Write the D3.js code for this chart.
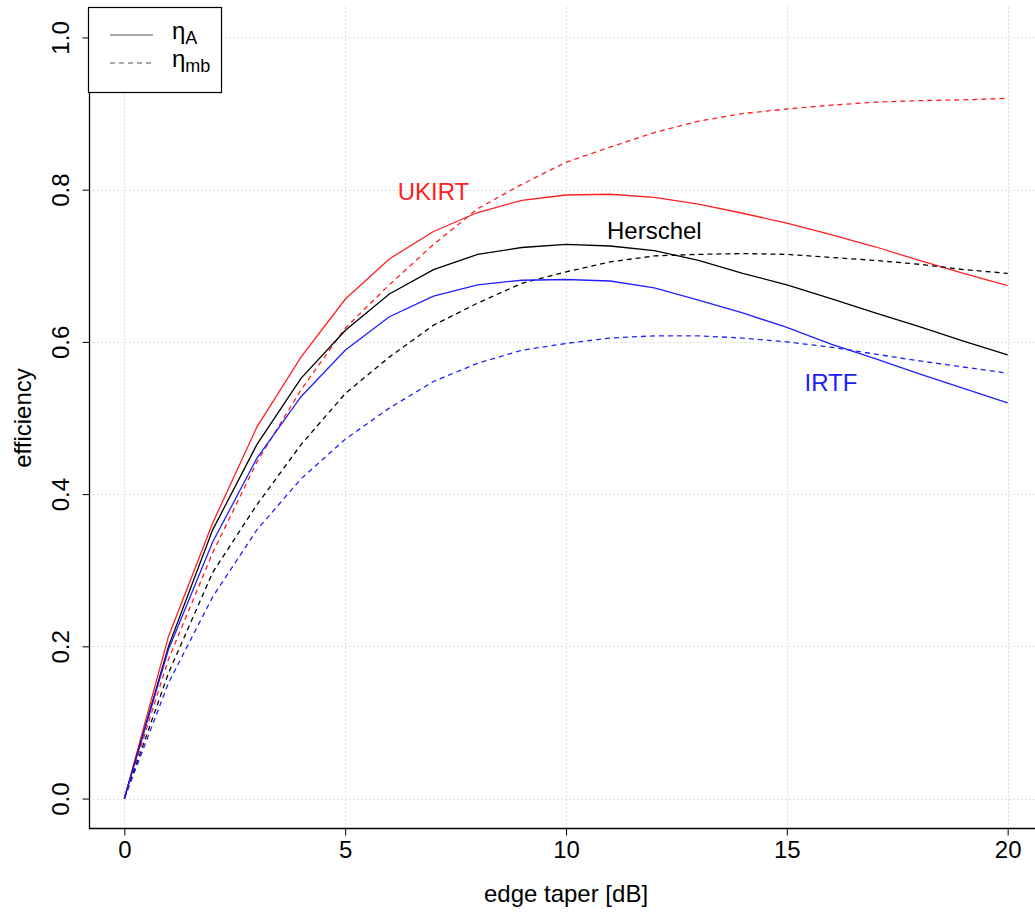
<!DOCTYPE html>
<html>
<head>
<meta charset="utf-8">
<script src="https://cdn.jsdelivr.net/npm/d3@7"></script>
<style>
  html, body { margin: 0; padding: 0; background: #fff; }
  svg { display: block; font-family: "Liberation Sans", Arial, Helvetica, sans-serif; }
</style>
</head>
<body>
<svg id="chart" width="1035" height="912"></svg>
<script>
// Edge taper in dB (x values)
const taper = [0, 1, 2, 3, 4, 5, 6, 7, 8, 9, 10, 11, 12, 13, 14, 15, 16, 17, 18, 19, 20];

// Aperture efficiency (eta_A) per telescope
const ukirtEtaA    = [0, 0.213, 0.362, 0.488, 0.580, 0.656, 0.709, 0.745, 0.770, 0.786, 0.793, 0.794, 0.790, 0.781, 0.769, 0.756, 0.741, 0.725, 0.707, 0.690, 0.674];
const herschelEtaA = [0, 0.200, 0.353, 0.465, 0.552, 0.615, 0.663, 0.695, 0.715, 0.724, 0.728, 0.726, 0.720, 0.707, 0.690, 0.675, 0.657, 0.638, 0.620, 0.601, 0.583];
const irtfEtaA     = [0, 0.196, 0.337, 0.447, 0.528, 0.589, 0.633, 0.660, 0.675, 0.681, 0.682, 0.680, 0.671, 0.655, 0.638, 0.619, 0.597, 0.578, 0.558, 0.539, 0.520];

// Main-beam efficiency (eta_mb) per telescope
const ukirtEtaMb    = [0, 0.183, 0.323, 0.442, 0.537, 0.618, 0.675, 0.728, 0.775, 0.807, 0.836, 0.856, 0.875, 0.890, 0.900, 0.906, 0.911, 0.915, 0.917, 0.918, 0.920];
const herschelEtaMb = [0, 0.165, 0.297, 0.386, 0.465, 0.532, 0.580, 0.622, 0.651, 0.677, 0.692, 0.705, 0.713, 0.715, 0.716, 0.715, 0.711, 0.707, 0.702, 0.695, 0.690];
const irtfEtaMb     = [0, 0.152, 0.265, 0.353, 0.420, 0.472, 0.513, 0.548, 0.572, 0.589, 0.598, 0.605, 0.608, 0.608, 0.605, 0.600, 0.593, 0.584, 0.575, 0.567, 0.559];

const xTicks = [0, 5, 10, 15, 20];
const yTicks = [0, 0.2, 0.4, 0.6, 0.8, 1.0];

const telescopes = [
  { name: "UKIRT",    color: "#ff2020", etaA: ukirtEtaA,    etaMb: ukirtEtaMb,    labelAt: [7.0, 0.787] },
  { name: "Herschel", color: "#000000", etaA: herschelEtaA, etaMb: herschelEtaMb, labelAt: [12.0, 0.735] },
  { name: "IRTF",     color: "#2020ff", etaA: irtfEtaA,     etaMb: irtfEtaMb,     labelAt: [16.0, 0.535] }
];

const svg = d3.select("#chart");

// Plot region: data range padded by 4% on each side
const plotLeft = 89, plotRight = 1043, plotTop = 7, plotBottom = 829;
const x = d3.scaleLinear().domain([-0.8, 20.8]).range([plotLeft, plotRight]);
const y = d3.scaleLinear().domain([-0.04, 1.04]).range([plotBottom, plotTop]);

// Dotted grid
const grid = svg.append("g").attr("stroke", "#d4d4d4").attr("stroke-width", 1).attr("stroke-dasharray", "1.5,2.5");
grid.selectAll("line.v").data(xTicks).join("line").attr("class", "v")
  .attr("x1", d => Math.round(x(d)) + 0.5).attr("x2", d => Math.round(x(d)) + 0.5)
  .attr("y1", plotTop).attr("y2", plotBottom);
grid.selectAll("line.h").data(yTicks).join("line").attr("class", "h")
  .attr("x1", plotLeft).attr("x2", plotRight)
  .attr("y1", d => Math.round(y(d)) + 0.5).attr("y2", d => Math.round(y(d)) + 0.5);

// Curves
const line = d3.line().x((d, i) => x(taper[i])).y(d => y(d));
const curves = svg.append("g").attr("fill", "none").attr("stroke-width", 1.3);
telescopes.forEach(t => {
  curves.append("path").attr("d", line(t.etaA)).attr("stroke", t.color);
  curves.append("path").attr("d", line(t.etaMb)).attr("stroke", t.color).attr("stroke-dasharray", "5,4");
});

// Curve labels
svg.append("g").attr("font-size", 24).attr("text-anchor", "middle")
  .selectAll("text").data(telescopes).join("text")
  .attr("x", d => x(d.labelAt[0])).attr("y", d => y(d.labelAt[1]))
  .attr("fill", d => d.color)
  .text(d => d.name);

// Axes (L-shaped frame)
const xAxis = d3.axisBottom(x).tickValues(xTicks).tickSize(7).tickPadding(5).tickFormat(d3.format("d"));
const gx = svg.append("g").attr("transform", `translate(0,${plotBottom - 0.5})`).call(xAxis);
gx.select(".domain").remove();
gx.selectAll("text").attr("font-size", 24).attr("fill", "#000").attr("font-family", "Liberation Sans, Arial, sans-serif");
gx.selectAll("line").attr("stroke", "#000");

const yAxis = d3.axisLeft(y).tickValues(yTicks).tickSize(7).tickFormat(d3.format(".1f"));
const gy = svg.append("g").attr("transform", `translate(${plotLeft + 0.5},0)`).call(yAxis);
gy.select(".domain").remove();
gy.selectAll("line").attr("stroke", "#000");
gy.selectAll("text")
  .attr("font-size", 24).attr("fill", "#000").attr("font-family", "Liberation Sans, Arial, sans-serif")
  .attr("text-anchor", "middle").attr("dy", null).attr("x", null)
  .attr("transform", "translate(-21,0) rotate(-90)");

svg.append("path")
  .attr("d", `M${plotLeft + 0.5},${plotTop} V${plotBottom - 0.5} H${plotRight}`)
  .attr("fill", "none").attr("stroke", "#000").attr("stroke-width", 1.3);

// Axis titles
svg.append("text").attr("x", x(10)).attr("y", 902).attr("text-anchor", "middle")
  .attr("font-size", 24).text("edge taper [dB]");
svg.append("text").attr("transform", `translate(31,${y(0.5)}) rotate(-90)`).attr("text-anchor", "middle")
  .attr("font-size", 24).text("efficiency");

// Legend
const legendItems = [
  { sub: "A",  dash: null },
  { sub: "mb", dash: "5,4" }
];
const lg = svg.append("g");
lg.append("rect").attr("x", 88.5).attr("y", 7.5).attr("width", 133).attr("height", 85)
  .attr("fill", "#fff").attr("stroke", "#000").attr("stroke-width", 1.2);
const rows = lg.selectAll("g.row").data(legendItems).join("g")
  .attr("transform", (d, i) => `translate(0,${35 + i * 28})`);
rows.append("line").attr("x1", 110).attr("x2", 153).attr("y1", 0).attr("y2", 0)
  .attr("stroke", "#555").attr("stroke-width", 1.2)
  .attr("stroke-dasharray", d => d.dash);
const lt = rows.append("text").attr("x", 172).attr("y", 4).attr("font-size", 24);
lt.append("tspan").text("η");
lt.append("tspan").attr("dy", 5).attr("font-size", 18).text(d => d.sub);
</script>
</body>
</html>
